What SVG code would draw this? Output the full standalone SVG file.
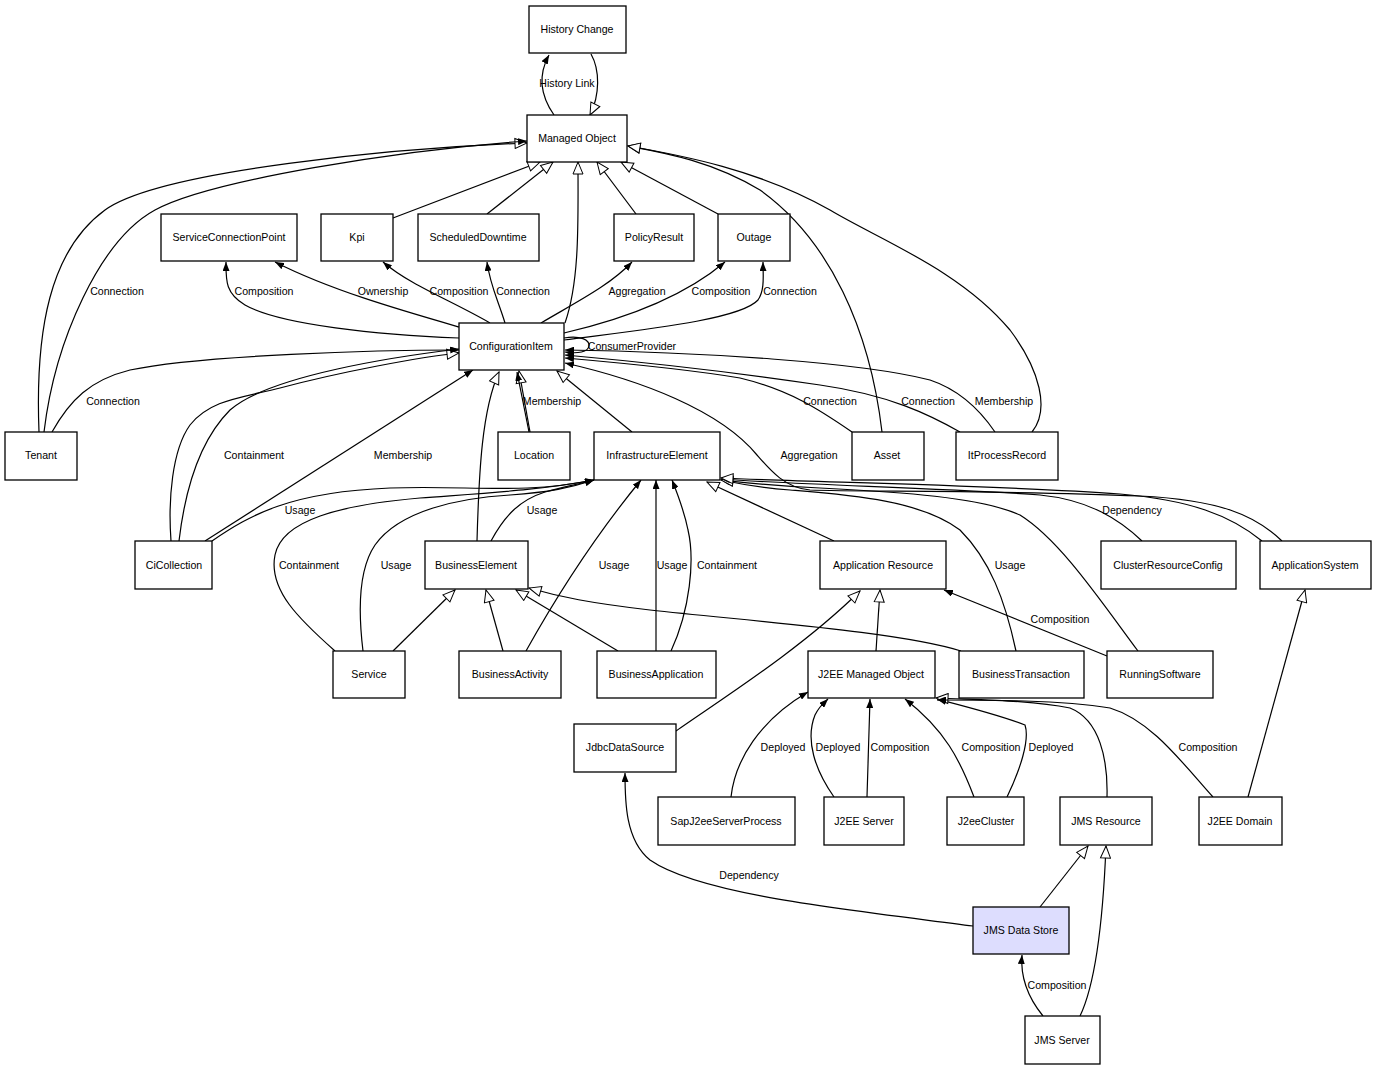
<svg xmlns="http://www.w3.org/2000/svg" width="1377" height="1071" viewBox="0 0 1377 1071">
<style>
.b{fill:#fff;stroke:#000;stroke-width:1.3}
.hl{fill:#ddddfe}
.t{font-family:"Liberation Sans",Arial,sans-serif;font-size:10.6px;text-anchor:middle;fill:#000}
.e path{fill:none;stroke:#000;stroke-width:1.2}
.f{marker-end:url(#af)}
.h{marker-end:url(#ah)}
</style>
<defs>
<marker id="af" viewBox="0 0 9 7" refX="9" refY="3.5" markerWidth="9" markerHeight="7" markerUnits="userSpaceOnUse" orient="auto"><path d="M0,0 L9,3.5 L0,7 z" fill="#000"/></marker>
<marker id="ah" viewBox="-1 -1 14 12" refX="12" refY="5" markerWidth="14" markerHeight="12" markerUnits="userSpaceOnUse" orient="auto"><path d="M0,0 L12,5 L0,10 z" fill="#fff" stroke="#000" stroke-width="1"/></marker>
</defs>
<rect width="1377" height="1071" fill="#fff"/>
<g id="connectors" class="e">
<path class="f" d="M554,115 C540,95 538,75 549,55"/>
<path class="h" d="M591,54 C600,70 600,95 590,115"/>
<path class="h" d="M39,432 C35,330 50,250 105,210 C160,170 400,148 527,143"/>
<path class="f" d="M44,432 C55,340 100,240 155,210 C210,180 400,150 527,141"/>
<path class="f" d="M52,432 C70,400 90,380 130,370 C200,355 380,350 459,350"/>
<path class="h" d="M393,218 L540,162"/>
<path class="h" d="M487,214 L553,162"/>
<path class="h" d="M565,323 C580,280 578,220 578,162"/>
<path class="h" d="M636,214 L597,162"/>
<path class="h" d="M718,214 L621,162"/>
<path class="h" d="M882,432 C870,330 830,240 760,190 C710,160 660,152 628,146"/>
<path class="h" d="M1032,432 C1050,410 1040,370 1010,330 C960,270 880,240 830,210 C760,170 680,155 628,146"/>
<path class="f" d="M459,338 C380,335 280,325 245,305 C225,293 226,280 226,262"/>
<path class="f" d="M459,327 C400,310 330,290 275,262"/>
<path class="f" d="M490,323 C450,300 410,285 383,262"/>
<path class="f" d="M505,323 C498,300 490,285 487,262"/>
<path class="f" d="M541,323 C580,300 610,285 632,262"/>
<path class="f" d="M564,333 C620,320 680,300 725,262"/>
<path class="f" d="M564,340 C640,330 740,320 758,300 C765,290 763,275 763,262"/>
<path class="f" d="M564,338 C580,335 590,340 589,346 C588,352 578,354 565,352"/>
<path class="h" d="M171,541 C168,500 172,450 190,425 C210,400 240,398 280,388 C340,372 420,357 459,353"/>
<path class="f" d="M179,541 C185,490 200,440 230,410 C270,375 400,356 459,349"/>
<path class="f" d="M205,541 L473,370"/>
<path class="f" d="M212,541 C250,515 290,492 390,488 C470,485 520,495 594,480"/>
<path class="f" d="M335,651 C300,620 268,590 275,555 C282,520 340,505 420,498 C500,492 540,490 594,480"/>
<path class="f" d="M363,651 C358,610 358,570 375,545 C400,510 460,498 510,495 C550,492 570,488 594,480"/>
<path class="h" d="M393,651 L455,590"/>
<path class="h" d="M477,541 C479,470 482,410 499,372"/>
<path class="f" d="M491,541 C505,515 520,500 545,492 C565,486 580,484 594,480"/>
<path class="h" d="M503,651 L486,590"/>
<path class="f" d="M526,651 C560,590 600,530 641,480"/>
<path class="h" d="M618,651 L516,590"/>
<path class="f" d="M656,651 L656,480"/>
<path class="f" d="M671,651 C690,610 695,560 688,530 C684,510 678,495 672,480"/>
<path class="h" d="M961,651 C900,632 760,622 650,610 C590,603 560,597 529,588"/>
<path class="h" d="M834,541 L707,482"/>
<path class="f" d="M1016,651 C1005,600 990,560 960,530 C920,500 850,495 790,490 C760,488 740,484 721,480"/>
<path class="h" d="M1138,651 C1100,600 1060,540 1020,515 C980,497 900,492 820,488 C770,486 740,482 721,480"/>
<path class="f" d="M1142,541 C1120,520 1090,500 1040,495 C950,488 800,485 721,479"/>
<path class="h" d="M1262,541 C1230,515 1190,500 1120,494 C1000,485 800,482 721,478"/>
<path class="f" d="M1282,541 C1255,515 1220,500 1140,496 C1000,490 860,492 810,490 C785,488 770,470 757,455 C720,410 640,380 565,363"/>
<path class="f" d="M852,432 C820,410 790,390 740,378 C680,368 610,362 565,358"/>
<path class="f" d="M960,432 C930,415 890,395 820,385 C720,370 620,360 565,355"/>
<path class="f" d="M995,432 C980,410 960,390 930,380 C860,362 700,352 565,350"/>
<path class="h" d="M530,432 L519,371"/>
<path class="f" d="M529,432 L517,372"/>
<path class="h" d="M632,432 L557,371"/>
<path class="h" d="M876,651 L880,590"/>
<path class="h" d="M676,731 C720,700 800,650 860,591"/>
<path class="f" d="M1107,656 L944,590"/>
<path class="f" d="M731,797 C735,760 760,720 808,692"/>
<path class="f" d="M834,797 C815,770 805,740 815,715 C820,705 825,702 828,699"/>
<path class="f" d="M867,797 L870,699"/>
<path class="f" d="M974,797 C960,760 945,730 905,699"/>
<path class="f" d="M1007,797 C1020,770 1030,740 1025,725 C1000,715 960,705 937,699"/>
<path class="h" d="M1107,797 C1108,760 1100,720 1070,708 C1030,700 980,700 936,698"/>
<path class="f" d="M1213,797 C1180,760 1150,720 1110,708 C1060,700 990,700 937,700"/>
<path class="h" d="M1248,797 L1305,590"/>
<path class="h" d="M1040,907 L1088,846"/>
<path class="h" d="M1080,1016 C1095,985 1103,920 1106,846"/>
<path class="f" d="M1043,1016 C1030,1000 1020,980 1022,955"/>
<path class="f" d="M973,926 C850,910 700,895 650,860 C625,840 625,800 625,773"/>
</g>
<g id="edge-labels" class="t">
<text x="567" y="87">History Link</text>
<text x="117" y="295">Connection</text>
<text x="113" y="405">Connection</text>
<text x="264" y="295">Composition</text>
<text x="383" y="295">Ownership</text>
<text x="459" y="295">Composition</text>
<text x="523" y="295">Connection</text>
<text x="637" y="295">Aggregation</text>
<text x="721" y="295">Composition</text>
<text x="790" y="295">Connection</text>
<text x="632" y="350">ConsumerProvider</text>
<text x="552" y="405">Membership</text>
<text x="830" y="405">Connection</text>
<text x="928" y="405">Connection</text>
<text x="1004" y="405">Membership</text>
<text x="254" y="459">Containment</text>
<text x="403" y="459">Membership</text>
<text x="809" y="459">Aggregation</text>
<text x="300" y="514">Usage</text>
<text x="542" y="514">Usage</text>
<text x="1132" y="514">Dependency</text>
<text x="309" y="569">Containment</text>
<text x="396" y="569">Usage</text>
<text x="614" y="569">Usage</text>
<text x="672" y="569">Usage</text>
<text x="727" y="569">Containment</text>
<text x="1010" y="569">Usage</text>
<text x="1060" y="623">Composition</text>
<text x="783" y="751">Deployed</text>
<text x="838" y="751">Deployed</text>
<text x="900" y="751">Composition</text>
<text x="991" y="751">Composition</text>
<text x="1051" y="751">Deployed</text>
<text x="1208" y="751">Composition</text>
<text x="749" y="879">Dependency</text>
<text x="1057" y="989">Composition</text>
</g>
<g id="n-HistoryChange"><rect class="b" x="529" y="6" width="97" height="47"/><text class="t" x="577" y="33">History Change</text></g>
<g id="n-ManagedObject"><rect class="b" x="527" y="115" width="100" height="47"/><text class="t" x="577" y="142">Managed Object</text></g>
<g id="n-ServiceConnectionPoint"><rect class="b" x="161" y="214" width="136" height="47"/><text class="t" x="229" y="241">ServiceConnectionPoint</text></g>
<g id="n-Kpi"><rect class="b" x="321" y="214" width="72" height="47"/><text class="t" x="357" y="241">Kpi</text></g>
<g id="n-ScheduledDowntime"><rect class="b" x="418" y="214" width="121" height="47"/><text class="t" x="478" y="241">ScheduledDowntime</text></g>
<g id="n-PolicyResult"><rect class="b" x="614" y="214" width="80" height="47"/><text class="t" x="654" y="241">PolicyResult</text></g>
<g id="n-Outage"><rect class="b" x="718" y="214" width="72" height="47"/><text class="t" x="754" y="241">Outage</text></g>
<g id="n-ConfigurationItem"><rect class="b" x="459" y="323" width="105" height="47"/><text class="t" x="511" y="350">ConfigurationItem</text></g>
<g id="n-Tenant"><rect class="b" x="5" y="432" width="72" height="48"/><text class="t" x="41" y="459">Tenant</text></g>
<g id="n-Location"><rect class="b" x="498" y="432" width="72" height="48"/><text class="t" x="534" y="459">Location</text></g>
<g id="n-InfrastructureElement"><rect class="b" x="594" y="432" width="126" height="48"/><text class="t" x="657" y="459">InfrastructureElement</text></g>
<g id="n-Asset"><rect class="b" x="852" y="432" width="72" height="48"/><text class="t" x="887" y="459">Asset</text></g>
<g id="n-ItProcessRecord"><rect class="b" x="956" y="432" width="102" height="48"/><text class="t" x="1007" y="459">ItProcessRecord</text></g>
<g id="n-CiCollection"><rect class="b" x="135" y="541" width="77" height="48"/><text class="t" x="174" y="569">CiCollection</text></g>
<g id="n-BusinessElement"><rect class="b" x="425" y="541" width="103" height="48"/><text class="t" x="476" y="569">BusinessElement</text></g>
<g id="n-ApplicationResource"><rect class="b" x="820" y="541" width="126" height="48"/><text class="t" x="883" y="569">Application Resource</text></g>
<g id="n-ClusterResourceConfig"><rect class="b" x="1101" y="541" width="135" height="48"/><text class="t" x="1168" y="569">ClusterResourceConfig</text></g>
<g id="n-ApplicationSystem"><rect class="b" x="1260" y="541" width="111" height="48"/><text class="t" x="1315" y="569">ApplicationSystem</text></g>
<g id="n-Service"><rect class="b" x="333" y="651" width="72" height="47"/><text class="t" x="369" y="678">Service</text></g>
<g id="n-BusinessActivity"><rect class="b" x="459" y="651" width="102" height="47"/><text class="t" x="510" y="678">BusinessActivity</text></g>
<g id="n-BusinessApplication"><rect class="b" x="597" y="651" width="119" height="47"/><text class="t" x="656" y="678">BusinessApplication</text></g>
<g id="n-J2EEManagedObject"><rect class="b" x="808" y="651" width="127" height="47"/><text class="t" x="871" y="678">J2EE Managed Object</text></g>
<g id="n-BusinessTransaction"><rect class="b" x="959" y="651" width="125" height="47"/><text class="t" x="1021" y="678">BusinessTransaction</text></g>
<g id="n-RunningSoftware"><rect class="b" x="1107" y="651" width="106" height="47"/><text class="t" x="1160" y="678">RunningSoftware</text></g>
<g id="n-JdbcDataSource"><rect class="b" x="574" y="724" width="102" height="48"/><text class="t" x="625" y="751">JdbcDataSource</text></g>
<g id="n-SapJ2eeServerProcess"><rect class="b" x="658" y="797" width="137" height="48"/><text class="t" x="726" y="825">SapJ2eeServerProcess</text></g>
<g id="n-J2EEServer"><rect class="b" x="824" y="797" width="80" height="48"/><text class="t" x="864" y="825">J2EE Server</text></g>
<g id="n-J2eeCluster"><rect class="b" x="947" y="797" width="77" height="48"/><text class="t" x="986" y="825">J2eeCluster</text></g>
<g id="n-JMSResource"><rect class="b" x="1060" y="797" width="92" height="48"/><text class="t" x="1106" y="825">JMS Resource</text></g>
<g id="n-J2EEDomain"><rect class="b" x="1199" y="797" width="83" height="48"/><text class="t" x="1240" y="825">J2EE Domain</text></g>
<g id="n-JMSDataStore"><rect class="b hl" x="973" y="907" width="96" height="47"/><text class="t" x="1021" y="934">JMS Data Store</text></g>
<g id="n-JMSServer"><rect class="b" x="1025" y="1016" width="75" height="48"/><text class="t" x="1062" y="1044">JMS Server</text></g>
</svg>
